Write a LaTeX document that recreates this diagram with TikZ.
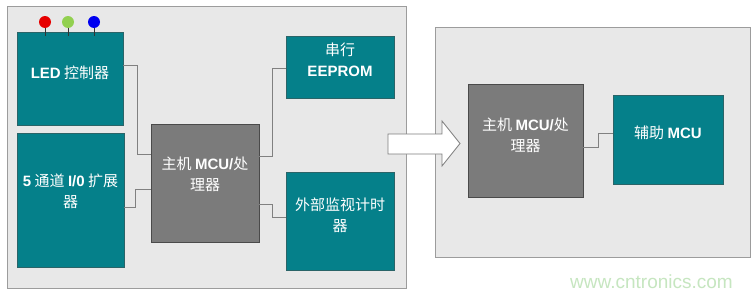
\documentclass[tikz,border=0pt]{standalone}
\usepackage{fontspec}
\newfontfamily\cjk{Noto Sans CJK SC}
\newfontfamily\latn{Liberation Sans}
\newcommand{\eng}[1]{{\latn\bfseries #1}}
\definecolor{panelgray}{HTML}{E8E8E8}
\definecolor{edgegray}{HTML}{9C9C9C}
\definecolor{tealfill}{HTML}{05808A}
\definecolor{tealedge}{HTML}{2A6468}
\definecolor{hostfill}{HTML}{7B7B7B}
\definecolor{hostedge}{HTML}{4A4A4A}
\definecolor{wiregray}{HTML}{808080}
\definecolor{ledred}{HTML}{E60000}
\definecolor{ledgreen}{HTML}{92D050}
\definecolor{ledblue}{HTML}{0000F0}
\definecolor{markgreen}{HTML}{C6E6C0}
\tikzset{
	panel/.style={draw=edgegray, fill=panelgray, line width=0.8pt},
	tealbox/.style={draw=tealedge, fill=tealfill, inner sep=0pt},
	hostbox/.style={draw=hostedge, fill=hostfill, inner sep=0pt, line width=0.8pt},
	boxtext/.style={text=white, align=center, font=\cjk\fontsize{15}{21}\selectfont},
	wire/.style={draw=wiregray, line width=0.8pt},
}
\begin{document}
\begin{tikzpicture}[x=1pt, y=-1pt]
	\useasboundingbox[fill=white] (0,0) rectangle (753,297);
	% left board (host side)
	\draw[panel] (7,6) rectangle (406,288);
	\node[tealbox, minimum width=106pt, minimum height=93pt] (led) at (70,78.5) {};
	\node[boxtext] at ([yshift=6pt]led.center) {\eng{LED} 控制器};
	\foreach \x/\c in {45/ledred, 68/ledgreen, 94/ledblue} {
		\draw[line width=0.8pt, black!80] (\x,27) -- (\x,36);
		\fill[\c] (\x,22) circle (6pt);
	}
	\node[tealbox, minimum width=107pt, minimum height=134pt] (io) at (70.5,200) {};
	\node[boxtext] at ([yshift=9pt]io.center) {\eng{5} 通道 \eng{I/0} 扩展\\器};
	\node[hostbox, minimum width=108pt, minimum height=118pt] (host) at (205,183) {};
	\node[boxtext] at ([yshift=9pt]host.center) {主机 \eng{MCU/}处\\理器};
	\node[tealbox, minimum width=108pt, minimum height=62pt] (eeprom) at (340,67) {};
	\node[boxtext] at ([yshift=7pt]eeprom.center) {串行\\\eng{EEPROM}};
	\node[tealbox, minimum width=108pt, minimum height=98pt] (watchdog) at (340,221) {};
	\node[boxtext] at ([yshift=6pt]watchdog.center) {外部监视计时\\器};
	% wires
	\draw[wire] (led.east |- 0,65) -| (137,154) -- (host.west |- 0,154);
	\draw[wire] (io.east |- 0,207) -| (135,189) -- (host.west |- 0,189);
	\draw[wire] (host.east |- 0,156) -| (272,68) -- (eeprom.west |- 0,68);
	\draw[wire] (host.east |- 0,204) -| (272,217) -- (watchdog.west |- 0,217);
	% right board (split)
	\draw[panel] (435,27) rectangle (750,257);
	\node[hostbox, minimum width=115pt, minimum height=113pt] (hostB) at (525.5,140.5) {};
	\node[boxtext] at ([yshift=5.5pt]hostB.center) {主机 \eng{MCU/}处\\理器};
	\node[tealbox, minimum width=110pt, minimum height=89pt] (aux) at (668,139.5) {};
	\node[boxtext] at ([yshift=6.5pt]aux.center) {辅助 \eng{MCU}};
	\draw[wire] (hostB.east |- 0,147) -| (598,133) -- (aux.west |- 0,133);
	% big arrow
	\draw[fill=white, draw=edgegray!80!black, line width=0.8pt] (388,134) -- (442,134) -- (442,121)
		-- (460,143.5) -- (442,166) -- (442,154) -- (388,154) -- cycle;
	\node[text=markgreen, font=\latn\fontsize{19}{22}\selectfont] (mark) at (651.5,282) {www.cntronics.com};
\end{tikzpicture}
\end{document}
